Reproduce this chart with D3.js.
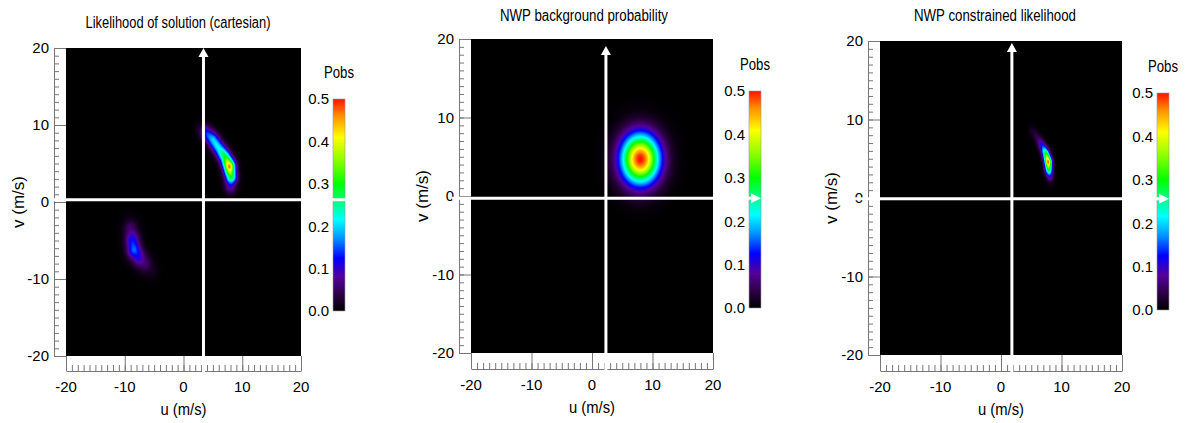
<!DOCTYPE html>
<html>
<head>
<meta charset="utf-8">
<script src="https://cdn.jsdelivr.net/npm/d3@7"></script>
<style>
  body { margin: 0; background: #fff; }
  svg { display: block; }
  text { font-family: "Liberation Sans", Arial, sans-serif; fill: #000; }
  .axis path, .axis line { stroke: #777; }
</style>
</head>
<body>
<div id="chart"></div>
<script>
// Titles and ticks
const titles = ["Likelihood of solution (cartesian)", "NWP background probability", "NWP constrained likelihood"];
const uTicks = [-20, -10, 0, 10, 20];
const vTicks = [-20, -10, 0, 10, 20];
const pobsTicks = [0.0, 0.1, 0.2, 0.3, 0.4, 0.5];

// Pobs colour table
const pobsStops = [0, 0.04, 0.08, 0.125, 0.17, 0.215, 0.3, 0.35, 0.41, 0.46, 0.5];
const pobsColors = ["#000000", "#2e0048", "#55009a", "#0000ff", "#0090ff", "#00ffff", "#00ff00", "#80ff00", "#ffff00", "#ff9000", "#ff1000"];

// Ridge of each likelihood arc: [u, v, peak Pobs]
const solutionArcA = [[3.0, 9.4, 0.03], [3.8, 9.0, 0.13], [5.0, 8.1, 0.2], [6.1, 6.9, 0.22], [7.1, 5.8, 0.3], [7.8, 4.6, 0.47], [8.1, 3.3, 0.3], [8.0, 2.1, 0.1], [7.8, 1.3, 0.02]];
const solutionArcB = [[-9.2, -2.5, 0.01], [-9.0, -3.5, 0.06], [-8.7, -5.0, 0.13], [-8.4, -6.2, 0.16], [-7.6, -7.2, 0.11], [-6.6, -8.0, 0.06], [-5.5, -8.8, 0.02]];
const constrainedArc = [[5.1, 8.7, 0.02], [6.1, 7.6, 0.05], [6.9, 6.5, 0.15], [7.4, 5.7, 0.3], [7.8, 4.6, 0.48], [7.9, 3.6, 0.3], [8.1, 2.7, 0.1], [8.2, 2.0, 0.02]];
const arcWidth = [0.68, 0.85, 0.42];

// NWP background gaussian
const nwpCentre = [8.0, 4.7];
const nwpPeak = 0.5;
const nwpSpread = 2.2;

// White crosshair position per panel
const crossU = [3.4, 2.3, 1.8];
const crossV = [0.3, -0.3, -0.1];

// Panel layout (pixels)
const panels = [
  { x0: 66, x1: 301, y0: 48, y1: 356, axisX: 54, axisY: 371, cbX: 333, cbY0: 99, cbY1: 311, titleX: 178, titleY: 28, titleW: 185, vLabelX: 18, hStart: 54, tipY: 48, arrow: false },
  { x0: 471, x1: 713, y0: 39, y1: 353, axisX: 459, axisY: 369, cbX: 749, cbY0: 91, cbY1: 308, titleX: 584, titleY: 21, titleW: 168, vLabelX: 422, hStart: 452, tipY: 46, arrow: true },
  { x0: 880, x1: 1122, y0: 41, y1: 355, axisX: 868, axisY: 371, cbX: 1157, cbY0: 93, cbY1: 310, titleX: 995, titleY: 21, titleW: 162, vLabelX: 831, hStart: 855, tipY: 43, arrow: true }
];
const cbW = 12;

const colorScale = d3.scaleLinear().domain(pobsStops).range(pobsColors).clamp(true);
// lookup table so the pixel loop stays cheap
const lut = d3.range(256).map(i => d3.rgb(colorScale(i / 255 * 0.5)));

function arcField(ridge, sigma) {
  return function (u, v) {
    let best = 0;
    for (let k = 0; k < ridge.length - 1; k++) {
      const a = ridge[k], b = ridge[k + 1];
      const dx = b[0] - a[0], dy = b[1] - a[1];
      let t = ((u - a[0]) * dx + (v - a[1]) * dy) / (dx * dx + dy * dy);
      t = Math.max(0, Math.min(1, t));
      const cu = a[0] + t * dx, cv = a[1] + t * dy;
      const d2 = (u - cu) * (u - cu) + (v - cv) * (v - cv);
      const pk = a[2] + t * (b[2] - a[2]);
      const val = pk * Math.exp(-d2 / (2 * sigma * sigma));
      if (val > best) best = val;
    }
    return best;
  };
}

const fieldA = arcField(solutionArcA, arcWidth[0]);
const fieldB = arcField(solutionArcB, arcWidth[1]);
const fieldC = arcField(constrainedArc, arcWidth[2]);
const fields = [
  (u, v) => Math.max(fieldA(u, v), fieldB(u, v)),
  (u, v) => nwpPeak * Math.exp(-((u - nwpCentre[0]) ** 2 + (v - nwpCentre[1]) ** 2) / (2 * nwpSpread * nwpSpread)),
  (u, v) => fieldC(u, v)
];

const svg = d3.select("#chart").append("svg")
  .attr("width", 1191)
  .attr("height", 423);

const defs = svg.append("defs");
const grad = defs.append("linearGradient")
  .attr("id", "pobsGrad")
  .attr("x1", 0).attr("y1", 1).attr("x2", 0).attr("y2", 0);
grad.selectAll("stop")
  .data(pobsStops)
  .join("stop")
  .attr("offset", d => d / 0.5)
  .attr("stop-color", (d, i) => pobsColors[i]);

panels.forEach((p, idx) => {
  const x = d3.scaleLinear().domain([-20, 20]).range([p.x0, p.x1]);
  const y = d3.scaleLinear().domain([-20, 20]).range([p.y1, p.y0]);
  const g = svg.append("g");

  // Heat map
  const w = p.x1 - p.x0, h = p.y1 - p.y0;
  const canvas = document.createElement("canvas");
  canvas.width = w;
  canvas.height = h;
  const ctx = canvas.getContext("2d");
  const img = ctx.createImageData(w, h);
  const f = fields[idx];
  for (let j = 0; j < h; j++) {
    const v = y.invert(p.y0 + j + 0.5);
    for (let i = 0; i < w; i++) {
      const u = x.invert(p.x0 + i + 0.5);
      const val = Math.max(0, Math.min(0.5, f(u, v)));
      const c = lut[Math.round(val / 0.5 * 255)];
      const o = (j * w + i) * 4;
      img.data[o] = c.r;
      img.data[o + 1] = c.g;
      img.data[o + 2] = c.b;
      img.data[o + 3] = 255;
    }
  }
  ctx.putImageData(img, 0, 0);
  g.append("image")
    .attr("x", p.x0).attr("y", p.y0)
    .attr("width", w).attr("height", h)
    .attr("preserveAspectRatio", "none")
    .attr("href", canvas.toDataURL());

  // Left axis
  g.append("g")
    .attr("class", "axis")
    .attr("transform", "translate(" + p.axisX + ",0)")
    .call(d3.axisRight(y).tickValues(d3.range(-20, 21)).tickSize(5).tickSizeOuter(0).tickFormat(""));
  g.append("g")
    .attr("class", "axis")
    .attr("transform", "translate(" + p.axisX + ",0)")
    .call(d3.axisRight(y).tickValues(vTicks).tickSize(p.x0 - p.axisX).tickFormat(""))
    .call(s => s.select(".domain").remove());
  g.append("g")
    .selectAll("text")
    .data(vTicks)
    .join("text")
    .attr("x", p.axisX - 5)
    .attr("y", d => y(d))
    .attr("dy", "0.36em")
    .attr("text-anchor", "end")
    .attr("font-size", 15)
    .text(d => d);

  // Bottom axis
  g.append("g")
    .attr("class", "axis")
    .attr("transform", "translate(0," + p.axisY + ")")
    .call(d3.axisTop(x).tickValues(d3.range(-20, 21)).tickSize(6).tickSizeOuter(0).tickFormat(""));
  g.append("g")
    .attr("class", "axis")
    .attr("transform", "translate(0," + p.axisY + ")")
    .call(d3.axisTop(x).tickValues(uTicks).tickSize(p.axisY - p.y1).tickFormat(""))
    .call(s => s.select(".domain").remove());
  g.append("g")
    .selectAll("text")
    .data(uTicks)
    .join("text")
    .attr("x", d => x(d))
    .attr("y", p.axisY + 21)
    .attr("text-anchor", "middle")
    .attr("font-size", 15)
    .text(d => d);

  // Axis titles
  g.append("text")
    .attr("x", (p.x0 + p.x1) / 2)
    .attr("y", p.axisY + 44)
    .attr("text-anchor", "middle")
    .attr("font-size", 17)
    .attr("textLength", 46)
    .attr("lengthAdjust", "spacingAndGlyphs")
    .text("u (m/s)");
  g.append("text")
    .attr("transform", "translate(" + p.vLabelX + "," + (p.y0 + p.y1) / 2 + ") rotate(-90)")
    .attr("dy", "0.35em")
    .attr("text-anchor", "middle")
    .attr("font-size", 17)
    .attr("textLength", 52)
    .attr("lengthAdjust", "spacingAndGlyphs")
    .text("v (m/s)");
  g.append("text")
    .attr("x", p.titleX)
    .attr("y", p.titleY)
    .attr("text-anchor", "middle")
    .attr("font-size", 16)
    .attr("textLength", p.titleW)
    .attr("lengthAdjust", "spacingAndGlyphs")
    .text(titles[idx]);

  // Colour bar
  const cb = d3.scaleLinear().domain([0, 0.5]).range([p.cbY1, p.cbY0]);
  g.append("rect")
    .attr("x", p.cbX).attr("y", cb(0.5))
    .attr("width", cbW).attr("height", cb(0) - cb(0.5))
    .attr("fill", "url(#pobsGrad)")
    .attr("stroke", "#999").attr("stroke-width", 0.6);
  g.append("g")
    .selectAll("text")
    .data(pobsTicks)
    .join("text")
    .attr("x", p.cbX - 4)
    .attr("y", d => cb(d))
    .attr("dy", "0.36em")
    .attr("text-anchor", "end")
    .attr("font-size", 15)
    .text(d => d.toFixed(1));
  g.append("text")
    .attr("x", p.cbX + cbW / 2)
    .attr("y", p.cbY0 - 21)
    .attr("text-anchor", "middle")
    .attr("font-size", 16)
    .attr("textLength", 30)
    .attr("lengthAdjust", "spacingAndGlyphs")
    .text("Pobs");

  // White crosshair with arrows
  const cx = x(crossU[idx]), cy = y(crossV[idx]);
  const cbRight = p.cbX + cbW;
  g.append("line")
    .attr("x1", p.hStart).attr("x2", p.arrow ? cbRight - 8 : cbRight + 1)
    .attr("y1", cy).attr("y2", cy)
    .attr("stroke", "#fff").attr("stroke-width", 3);
  if (p.arrow) {
    g.append("path")
      .attr("d", "M" + (cbRight - 10) + "," + (cy - 5) + "L" + cbRight + "," + cy + "L" + (cbRight - 10) + "," + (cy + 5) + "Z")
      .attr("fill", "#fff");
  }
  g.append("line")
    .attr("x1", cx).attr("x2", cx)
    .attr("y1", p.axisY + 1).attr("y2", p.tipY + 8)
    .attr("stroke", "#fff").attr("stroke-width", 3);
  g.append("path")
    .attr("d", "M" + (cx - 5) + "," + (p.tipY + 9) + "L" + cx + "," + p.tipY + "L" + (cx + 5) + "," + (p.tipY + 9) + "Z")
    .attr("fill", "#fff");
});
</script>
</body>
</html>
